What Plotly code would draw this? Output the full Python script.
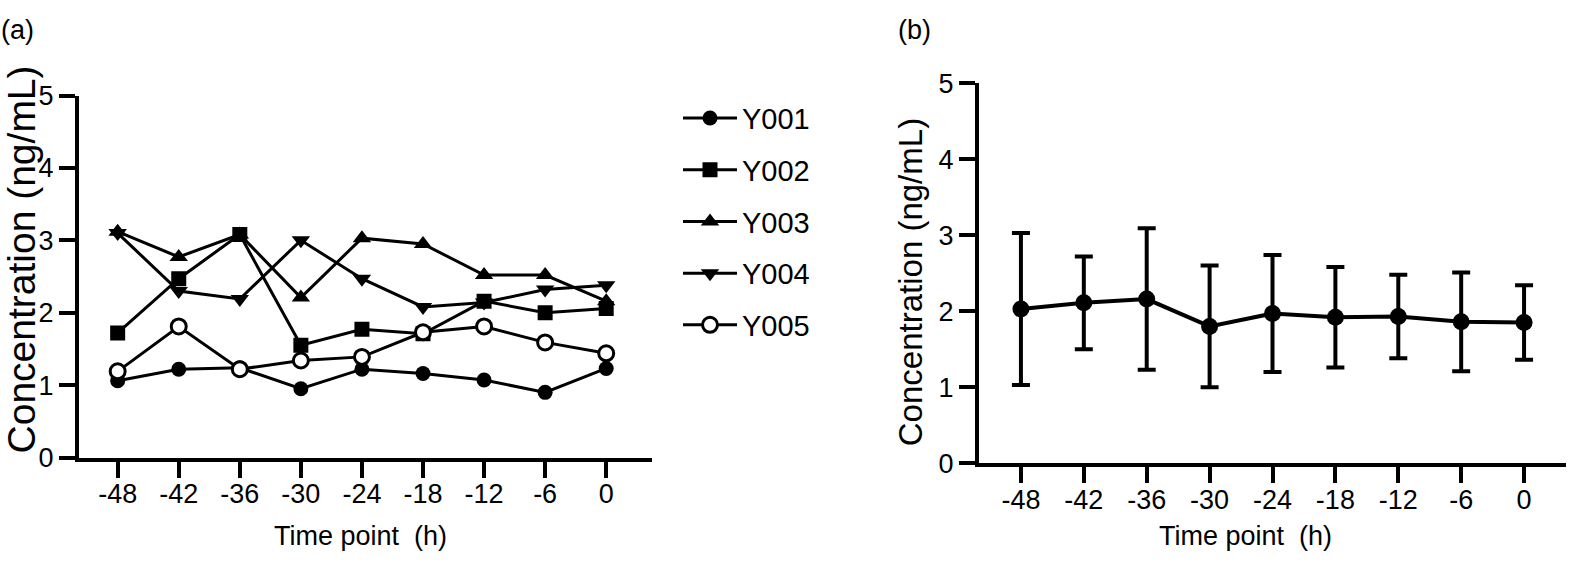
import plotly.graph_objects as go
from plotly.subplots import make_subplots

# sampling times (h) and per-subject concentrations (ng/mL)
time_points = [-48, -42, -36, -30, -24, -18, -12, -6, 0]
subjects = ["Y001", "Y002", "Y003", "Y004", "Y005"]
y001 = [1.06, 1.22, 1.24, 0.95, 1.22, 1.16, 1.07, 0.90, 1.23]
y002 = [1.72, 2.47, 3.08, 1.55, 1.77, 1.71, 2.16, 2.00, 2.06]
y003 = [3.12, 2.77, 3.08, 2.21, 3.03, 2.95, 2.52, 2.52, 2.16]
y004 = [3.10, 2.30, 2.19, 3.00, 2.47, 2.08, 2.14, 2.32, 2.38]
y005 = [1.19, 1.81, 1.22, 1.34, 1.39, 1.73, 1.81, 1.59, 1.44]

# panel (b): mean +/- SD
mean_conc = [2.03, 2.11, 2.16, 1.80, 1.97, 1.92, 1.93, 1.86, 1.85]
sd_conc = [1.00, 0.61, 0.93, 0.80, 0.77, 0.66, 0.55, 0.65, 0.49]

tick_vals = [-48, -42, -36, -30, -24, -18, -12, -6, 0]
tick_text = ["-48", "-42", "-36", "-30", "-24", "-18", "-12", "-6", "0"]

FONT = "Liberation Sans, Arial, Helvetica, sans-serif"
W, H = 1578, 572


def fx(x):
    return x / W


def fy(y):
    return 1 - y / H


fig = make_subplots(rows=1, cols=2)

series = [y001, y002, y003, y004, y005]
symbols = ["circle", "square", "triangle-up", "triangle-down", "circle"]
fills = ["black", "black", "black", "black", "white"]
sizes = [15, 15, 16, 16, 15]
for name, vals, sym, fc, sz in zip(subjects, series, symbols, fills, sizes):
    fig.add_trace(go.Scatter(x=time_points, y=vals, name=name, mode="lines+markers",
                             legendgroup=name,
                             line=dict(color="black", width=3),
                             marker=dict(symbol=sym, size=sz, color=fc,
                                         line=dict(color="black", width=3 if fc == "white" else 0))),
                  row=1, col=1)

fig.add_trace(go.Scatter(x=time_points, y=mean_conc, mode="lines+markers", showlegend=False,
                         line=dict(color="black", width=4),
                         marker=dict(symbol="circle", size=17, color="black"),
                         error_y=dict(type="data", array=sd_conc, visible=True,
                                      color="black", thickness=4, width=9)),
              row=1, col=2)

axis_common = dict(showline=True, linecolor="black", linewidth=4, ticks="outside",
                   tickwidth=4, ticklen=16, tickcolor="black", showgrid=False, zeroline=False,
                   tickfont=dict(family=FONT, size=27, color="black"))

fig.update_xaxes(axis_common, tickvals=tick_vals, ticktext=tick_text, ticklabelstandoff=-7)
fig.update_yaxes(axis_common, range=[0, 5], tickvals=[0, 1, 2, 3, 4, 5])

fig.update_layout(
    xaxis=dict(domain=[fx(79), fx(652)], range=[-51.8, 4.5]),
    yaxis=dict(domain=[fy(467), fy(85)]),
    xaxis2=dict(domain=[fx(979), fx(1566)], range=[-52, 4]),
    yaxis2=dict(domain=[fy(473), fy(72)]),
)

# axis titles and panel letters
notes = [
    dict(text="Concentration (ng/mL)", x=21, y=258, size=39, angle=-90),
    dict(text="Concentration (ng/mL)", x=910, y=282, size=33, angle=-90),
    dict(text="Time point\u00a0\u00a0(h)", x=360, y=550, size=27, angle=0),
    dict(text="Time point\u00a0\u00a0(h)", x=1245, y=550, size=27, angle=0),
    dict(text="(a)", x=17, y=16, size=27, angle=0),
    dict(text="(b)", x=914, y=16, size=27, angle=0),
]
for n in notes:
    fig.add_annotation(text=n["text"], xref="paper", yref="paper",
                       x=fx(n["x"]), y=fy(n["y"]), xanchor="center", yanchor="middle",
                       textangle=n["angle"], showarrow=False,
                       font=dict(family=FONT, size=n["size"], color="black"))

fig.update_layout(
    width=W, height=H,
    margin=dict(l=0, r=0, t=0, b=0),
    paper_bgcolor="white", plot_bgcolor="white",
    font=dict(family=FONT, color="black"),
    legend=dict(x=fx(678), y=fy(82), xanchor="left", yanchor="top",
                font=dict(family=FONT, size=29, color="black"),
                itemwidth=54, tracegroupgap=11, bgcolor="rgba(0,0,0,0)"),
)

# drop the page's default body margin so the figure fills the window exactly
fig.write_html("out.html", config={"displayModeBar": False},
               post_script="document.body.style.margin = '0';")
